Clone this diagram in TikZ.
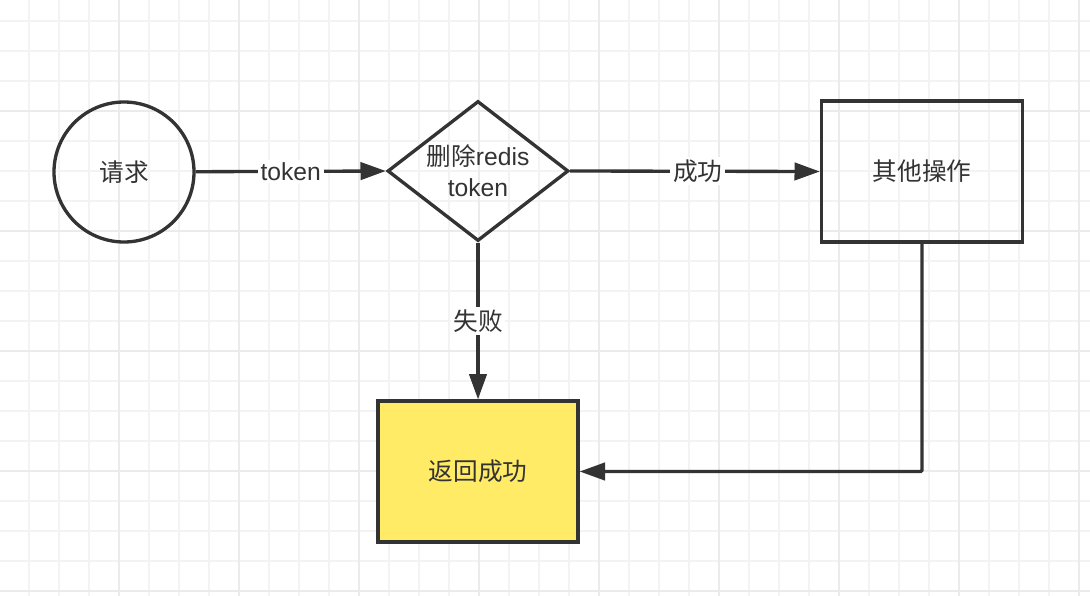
\documentclass[tikz,border=0pt]{standalone}
\usepackage{fontspec}
\setmainfont{Liberation Sans}
\newfontfamily\cjk{Noto Sans CJK SC}
\usetikzlibrary{shapes.geometric, arrows.meta}
\definecolor{FlowInk}{HTML}{333333}
\definecolor{FlowYellow}{HTML}{FFEB66}
\definecolor{GridMinor}{HTML}{F3F3F3}
\definecolor{GridMajor}{HTML}{EBEBEB}

\begin{document}
\begin{tikzpicture}[x=0.75pt, y=-0.75pt,
    every node/.style={font=\fontsize{18.5}{23}\selectfont, text=FlowInk},
    flowshape/.style={draw=FlowInk, line width=2.5pt, inner sep=0pt},
    flowarrow/.style={draw=FlowInk, line width=2.5pt, -{Triangle[length=19pt, width=13pt]}},
    edgelabel/.style={fill=white, inner sep=2pt}]
                \useasboundingbox (0,0) rectangle (1090,596);
                \fill[white] (0,0) rectangle (1090,596);

                % Grid
                \foreach \gx in {29,59,...,1090} \draw[GridMinor, line width=0.9pt] (\gx,0) -- (\gx,596);
                \foreach \gy in {21,51,...,596} \draw[GridMinor, line width=0.9pt] (0,\gy) -- (1090,\gy);
                \foreach \gx in {119,239,...,1090} \draw[GridMajor, line width=0.9pt] (\gx,0) -- (\gx,596);
                \foreach \gy in {111,231,...,596} \draw[GridMajor, line width=0.9pt] (0,\gy) -- (1090,\gy);

                % Shapes
                \node[flowshape, circle, minimum size=105pt] (request) at (124,172) {\cjk 请求};
                \node[flowshape, diamond, minimum width=135.75pt, minimum height=105pt] (delete) at (478,171) {};
                \node[align=center] (deletetext) at (delete) {{\cjk 删除}redis\\token};
                \node[flowshape, rectangle, minimum width=150.75pt, minimum height=105.75pt] (other) at (922,171.5) {\cjk 其他操作};
                \node[flowshape, rectangle, fill=FlowYellow, minimum width=150pt, minimum height=105.75pt] (return) at (478,471.5) {\cjk 返回成功};

                % Connectors
                \draw[flowarrow] (request) -- node[edgelabel] {token} (delete.west);
                \draw[flowarrow] (delete.east) -- node[edgelabel, xshift=2pt] {\cjk 成功} (other.west);
                \draw[flowarrow] (delete.south) -- node[edgelabel] {\cjk 失败} (return.north);
                \draw[flowarrow, rounded corners=1pt] (other.south) |- (return.east);
            \end{tikzpicture}
\end{document}
